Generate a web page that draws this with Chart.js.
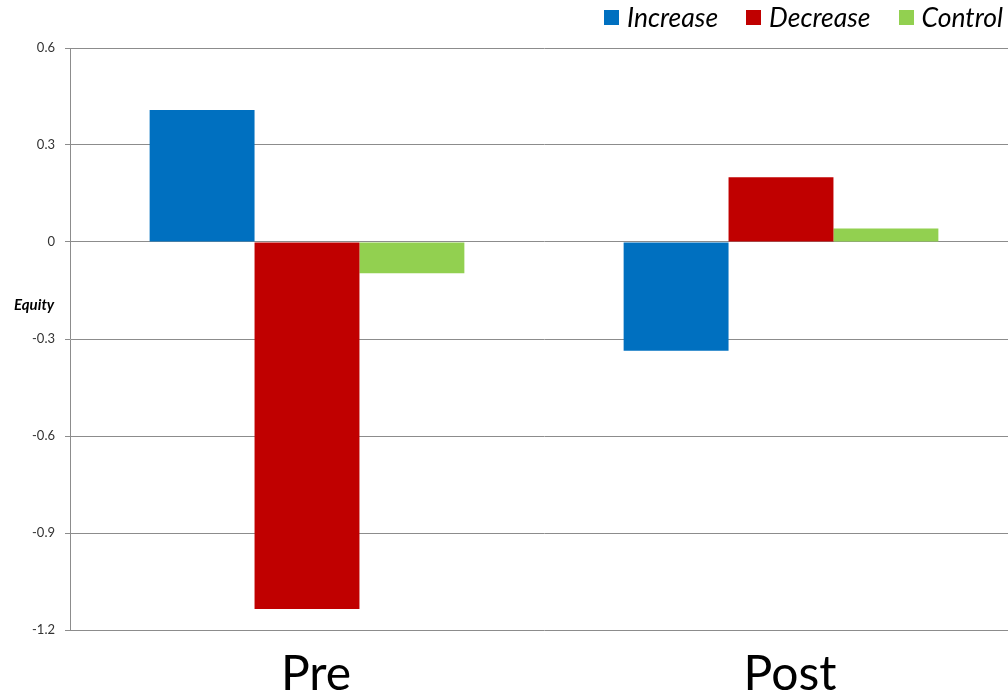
<!DOCTYPE html>
<html>
<head>
<meta charset="utf-8">
<script src="https://cdn.jsdelivr.net/npm/chart.js@4.4.0/dist/chart.umd.min.js"></script>
<style>
  html, body { margin: 0; padding: 0; background: #fff; overflow: hidden; width: 1008px; height: 692px; }
  #wrap { position: absolute; left: 0; top: 0; width: 1018px; height: 692px; }
  .legend { position: absolute; right: 5px; top: 1px; display: flex; align-items: center; gap: 28px; font: italic 26.5px Lato, "Open Sans", sans-serif; color: #000; }
  .legend-item { display: flex; align-items: center; gap: 8px; }
  .legend-color { width: 15px; height: 15px; }
  .y-title { position: absolute; left: 14px; top: 295px; font: italic bold 15px Lato, sans-serif; color: #000; }
</style>
</head>
<body>
<div id="wrap"><canvas id="equityChart" width="1018" height="692"></canvas></div>
<div class="legend" id="legend"></div>
<div class="y-title">Equity</div>
<script>
// ========== DATA ==========
const categories = ["Pre", "Post"];
const increase = [0.408, -0.336];
const decrease = [-1.135, 0.2];
const control = [-0.097, 0.042];
const seriesNames = ["Increase", "Decrease", "Control"];
const seriesColors = ["#0070C0", "#C00000", "#92D050"];
const yMin = -1.2, yMax = 0.6, yStep = 0.3;

// ========== LEGEND ==========
function renderLegend() {
  document.getElementById("legend").innerHTML = seriesNames
    .map(
      (n, i) =>
        `<div class="legend-item"><div class="legend-color" style="background:${seriesColors[i]};"></div><span>${n}</span></div>`,
    )
    .join("");
}

// ========== CHART ==========
function renderChart() {
  const ctx = document.getElementById("equityChart");
  const seriesData = [increase, decrease, control];

  const datasets = seriesNames.map((name, i) => ({
    label: name,
    data: seriesData[i],
    backgroundColor: seriesColors[i],
    borderWidth: 0,
    categoryPercentage: 0.664,
    barPercentage: 1.0,
  }));

  new Chart(ctx, {
    type: "bar",
    data: { labels: categories, datasets },
    options: {
      responsive: false,
      animation: false,
      layout: { padding: { top: 48, right: 0, left: 0, bottom: 0 } },
      plugins: {
        legend: { display: false },
        tooltip: { enabled: false },
      },
      scales: {
        x: {
          grid: { display: false },
          border: { display: false },
          ticks: {
            padding: 8,
            labelOffset: 9,
            color: "#000",
            font: { family: "Lato", size: 48 },
          },
          afterFit: (scale) => {
            scale.height = 62;
          },
        },
        y: {
          min: yMin,
          max: yMax,
          ticks: {
            stepSize: yStep,
            padding: 10,
            color: "#333",
            font: { family: "Lato", size: 13 },
          },
          grid: { color: "#8c8c8c", lineWidth: 1, tickLength: 5 },
          border: { display: true, color: "#8c8c8c", width: 1 },
          afterFit: (scale) => {
            scale.width = 70;
          },
        },
      },
    },
  });
}

renderLegend();
renderChart();
</script>
</body>
</html>
